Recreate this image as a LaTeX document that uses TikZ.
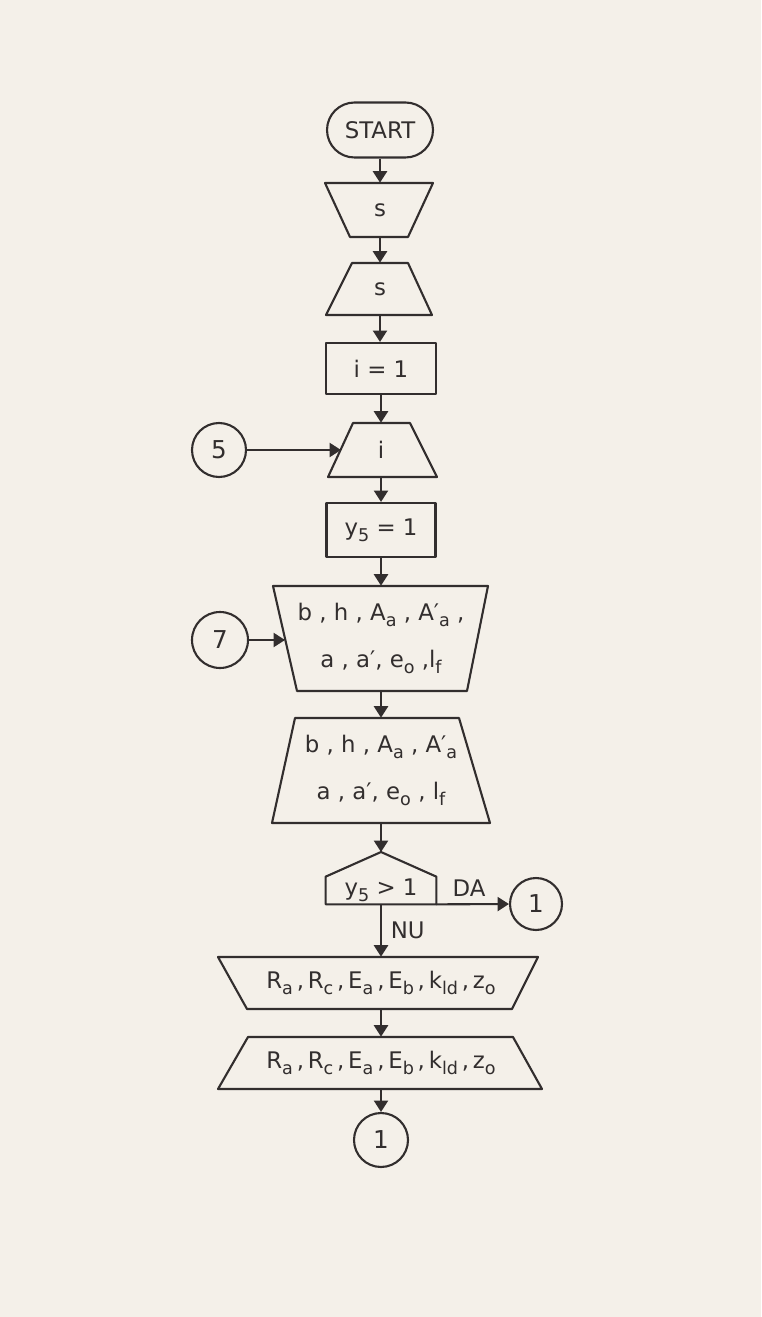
\documentclass[tikz,border=0pt]{standalone}
\usepackage{fontspec}
\setmainfont{DejaVu Sans}
\usetikzlibrary{arrows.meta,positioning}
\definecolor{hartie}{RGB}{244,240,233}
\definecolor{tus}{RGB}{50,46,46}
\newcommand{\ind}[1]{\raisebox{-0.5ex}{\fontsize{10}{10}\selectfont #1}}
\tikzset{
  contur/.style={draw=tus,line width=1.2pt,line join=round},
  eticheta/.style={text=tus,inner sep=0pt,font=\fontsize{13}{15}\selectfont},
  flux/.style={tus,line width=1.2pt,-{Triangle[length=6.5pt,width=8pt]}},
  conector/.style={circle,draw=tus,line width=1.2pt,inner sep=0pt,text=tus,font=\fontsize{14}{16}\selectfont}
}

\begin{document}
\begin{tikzpicture}[x=0.02cm,y=-0.02cm]
\fill[hartie] (0,0) rectangle (761,1317);
\useasboundingbox (0,0) rectangle (761,1317);
% START
\node[contur,eticheta,rounded corners=0.55cm,minimum width=2.12cm,minimum height=1.1cm] (start) at (380,130) {START};
% citire s
\draw[contur] (325,183) -- (433,183) -- (408,237) -- (350,237) -- cycle;
\node[eticheta,minimum height=1.08cm] (citS) at (380,210) {s};
% scriere s
\draw[contur] (352,263) -- (408,263) -- (432,315) -- (326,315) -- cycle;
\node[eticheta,minimum height=1.04cm] (scrS) at (380,289) {s};
% i = 1
\node[contur,eticheta,minimum width=2.2cm,minimum height=1.02cm] (init) at (381,368.5) {i = 1};
% scriere i
\draw[contur] (353,423) -- (410,423) -- (437,477) -- (328,477) -- cycle;
\node[eticheta,minimum height=1.08cm] (citI) at (381,450) {i};
\node[conector,minimum size=1.08cm] (c5) at (219,450) {5};
\coordinate (intrI) at (341,450);
% y5 = 1
\node[contur,eticheta,minimum width=2.18cm,minimum height=1.08cm] (y5) at (381,530) {y\ind{5} = 1};
% citire date
\draw[contur] (273,586) -- (488,586) -- (467,691) -- (297,691) -- cycle;
\node[eticheta,minimum height=2.1cm,align=center,font=\fontsize{13}{27}\selectfont] (citD) at (381,638.5)
  {b , h , A\ind{a} , A′\ind{a} ,\\ a , a′, e\ind{o} ,l\ind{f}};
\node[conector,minimum size=1.12cm] (c7) at (220,640) {7};
\coordinate (intrD) at (285,640);
% scriere date
\draw[contur] (295,718) -- (459,718) -- (490,823) -- (272,823) -- cycle;
\node[eticheta,minimum height=2.1cm,align=center,font=\fontsize{13}{27}\selectfont] (scrD) at (381,770.5)
  {b , h , A\ind{a} , A′\ind{a}\\ a , a′, e\ind{o} , l\ind{f}};
% test y5 > 1
\coordinate (varf) at (381,852);
\node[eticheta,minimum width=2.2cm,minimum height=0.54cm] (test) at (381,890.5) {y\ind{5} > 1};
\draw[contur] (test.south west) -- (test.north west) -- (varf) -- (test.north east) -- (test.south east) -- cycle;
\node[conector,minimum size=1.04cm] (c1a) at (536,904) {1};
% citire R
\draw[contur] (218,957) -- (538,957) -- (512,1009) -- (247,1009) -- cycle;
\node[eticheta,minimum height=1.04cm] (citR) at (381,983)
  {R\ind{a}\,,\,R\ind{c}\,,\,E\ind{a}\,,\,E\ind{b}\,,\,k\ind{ld}\,,\,z\ind{o}};
% scriere R
\draw[contur] (248,1037) -- (513,1037) -- (542,1089) -- (218,1089) -- cycle;
\node[eticheta,minimum height=1.04cm] (scrR) at (381,1063)
  {R\ind{a}\,,\,R\ind{c}\,,\,E\ind{a}\,,\,E\ind{b}\,,\,k\ind{ld}\,,\,z\ind{o}};
\node[conector,minimum size=1.08cm] (c1b) at (381,1140) {1};
% legaturi
\draw[flux] (start.south) -- (start.south |- citS.north);
\draw[flux] (citS.south) -- (citS.south |- scrS.north);
\draw[flux] (scrS.south) -- (scrS.south |- init.north);
\draw[flux] (init.south) -- (init.south |- citI.north);
\draw[flux] (c5.east) -- (intrI);
\draw[flux] (citI.south) -- (citI.south |- y5.north);
\draw[flux] (y5.south) -- (y5.south |- citD.north);
\draw[flux] (c7.east) -- (intrD);
\draw[flux] (citD.south) -- (citD.south |- scrD.north);
\draw[flux] (scrD.south) -- (scrD.south |- varf);
\draw[flux] (test.south east) -- node[above,pos=0.45,eticheta,inner sep=4pt] (da) {DA} (c1a.west);
\draw[flux] (test.south) -- node[right,eticheta,inner sep=5pt] (nu) {NU} (test.south |- citR.north);
\draw[flux] (citR.south) -- (citR.south |- scrR.north);
\draw[flux] (scrR.south) -- (scrR.south |- c1b.north);
\end{tikzpicture}
\end{document}
